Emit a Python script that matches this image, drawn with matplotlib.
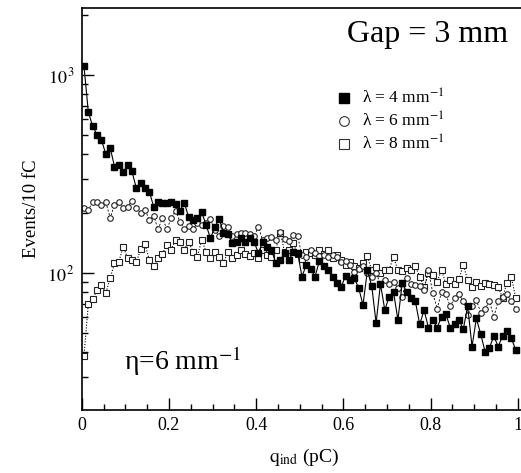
import numpy as np
import matplotlib.pyplot as plt
from matplotlib.lines import Line2D
from matplotlib.ticker import FixedLocator, MultipleLocator, NullFormatter, LogLocator

plt.rcParams['font.family'] = ['Liberation Serif', 'DejaVu Serif']
plt.rcParams['mathtext.fontset'] = 'stix'

# bin centres, 10 fC wide
q_ind = np.arange(100) * 0.01 + 0.005

# lambda = 4 mm^-1 (filled squares)
ev_l4 = [1110, 650, 550, 500, 470, 400, 430, 345, 350, 323,
         350, 327, 268, 285, 268, 257, 216, 229, 226, 226,
         229, 222, 206, 226, 192, 185, 190, 203, 175, 150,
         170, 188, 160, 158, 141, 144, 150, 144, 150, 144,
         126, 144, 136, 131, 112, 116, 126, 116, 128, 126,
         96, 110, 105, 96, 115, 108, 104, 95, 89, 85,
         97, 92, 94, 84, 69, 103, 86, 56, 88, 65,
         76, 80, 58, 89, 80, 75, 72, 55, 65, 53,
         58, 53, 60, 62, 53, 55, 58, 52, 68, 42.5,
         59, 49, 40, 42, 48, 42.5, 48, 51, 47, 41]

# lambda = 6 mm^-1 (open circles)
ev_l6 = [212, 208, 229, 229, 220, 229, 190, 220, 229, 214,
         216, 232, 214, 201, 208, 186, 194, 166, 190, 166,
         189, 206, 182, 166, 172, 167, 178, 175, 178, 187,
         165, 153, 172, 171, 153, 158, 159, 160, 158, 153,
         171, 146, 150, 152, 147, 162, 148, 145, 156, 153,
         123, 121, 131, 126, 122, 124, 120, 123, 121, 114,
         115, 110, 101, 105, 108, 100, 96, 100, 88, 92,
         88, 90, 84, 76, 94, 88, 87, 86, 82, 104,
         79, 66, 80, 78, 68, 75, 78, 72, 61, 68,
         73, 63, 66, 72, 60, 72, 76, 78, 72, 66]

# lambda = 8 mm^-1 (open squares)
ev_l8 = [38, 70, 74, 82, 87, 79, 94, 112, 114, 136,
         119, 116, 113, 132, 140, 116, 108, 119, 125, 139,
         131, 147, 144, 131, 144, 128, 121, 147, 128, 119,
         128, 121, 112, 128, 119, 123, 131, 125, 122, 126,
         119, 131, 124, 120, 131, 160, 128, 130, 141, 125,
         118, 128, 126, 124, 131, 125, 131, 119, 123, 116,
         110, 113, 108, 106, 112, 122, 103, 107, 100, 103,
         104, 121, 103, 102, 106, 104, 108, 96, 85, 100,
         98, 90, 104, 88, 92, 88, 93, 110, 92, 85,
         90, 86, 89, 88, 87, 85, 75, 89, 96, 75]

labels = ['λ = 4 mm$^{-1}$',
          'λ = 6 mm$^{-1}$',
          'λ = 8 mm$^{-1}$']

fig = plt.figure(figsize=(5.21, 4.73), dpi=100)
ax = fig.add_axes([0.157, 0.133, 0.8536, 0.85])

ax.plot(q_ind, ev_l8, color='black', ls=(0, (1, 1.5)), lw=0.8,
        marker='s', ms=4.0, mfc='white', mec='#222222', mew=0.8)
ax.plot(q_ind, ev_l6, color='black', ls=(0, (2.5, 2)), lw=0.6,
        marker='o', ms=4.0, mfc='white', mec='#222222', mew=0.8)
ax.plot(q_ind, ev_l4, color='black', ls='-', lw=0.8,
        marker='s', ms=4.2, mfc='black', mec='black')

ax.set_yscale('log')
ax.set_xlim(0, 1.02)
ax.set_ylim(20.3, 2180)

ax.xaxis.set_major_locator(FixedLocator([0, 0.2, 0.4, 0.6, 0.8, 1.0]))
ax.xaxis.set_minor_locator(MultipleLocator(0.05))
ax.set_xticklabels(['0', '0.2', '0.4', '0.6', '0.8', '1'])
ax.yaxis.set_major_locator(FixedLocator([100, 1000]))
ax.set_yticklabels([r'$10^{\,2}$', r'$10^{\,3}$'])
ax.yaxis.set_minor_locator(LogLocator(base=10, subs=np.arange(2, 10)))
ax.yaxis.set_minor_formatter(NullFormatter())

ax.tick_params(which='both', direction='in', top=False, right=False,
               labelsize=13, width=1.0)
ax.tick_params(which='major', length=8.5, pad=5)
ax.tick_params(which='minor', length=4.5)
for s in ax.spines.values():
    s.set_linewidth(1.2)

ax.set_xlabel(r'$\mathrm{q}_{\mathrm{ind}}$ (pC)', fontsize=14, labelpad=9)
ax.set_ylabel('Events/10 fC', fontsize=13.5, labelpad=5)

ax.text(0.778, 0.933, 'Gap = 3 mm', transform=ax.transAxes,
        fontsize=23, ha='center', va='center')
ax.text(0.095, 0.10, 'η=6 mm$^{-1}$', transform=ax.transAxes,
        fontsize=20, ha='left', va='baseline')

handles = [Line2D([], [], ls='none', marker='s', ms=7, mfc='black', mec='black'),
           Line2D([], [], ls='none', marker='o', ms=7, mfc='white', mec='#333333', mew=0.8),
           Line2D([], [], ls='none', marker='s', ms=7, mfc='white', mec='#333333', mew=0.8)]
ax.legend(handles, labels, loc='upper left', bbox_to_anchor=(0.555, 0.82),
          frameon=False, fontsize=12.5, handlelength=0.8, handletextpad=0.6,
          labelspacing=0.2, borderpad=0)

fig.savefig('out.png', dpi=100)
